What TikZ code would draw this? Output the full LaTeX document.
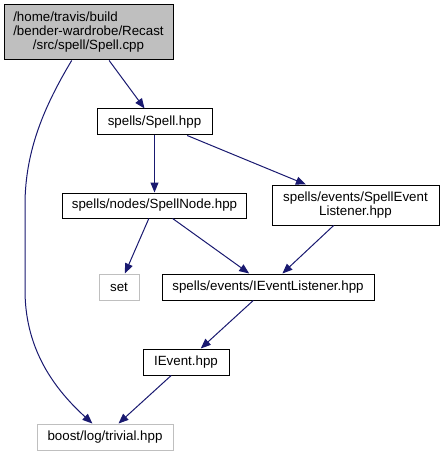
\documentclass[tikz,border=0pt]{standalone}
\usepackage{fontspec}
\setmainfont{Liberation Sans}
\usetikzlibrary{arrows.meta, positioning}
\definecolor{depblue}{RGB}{25,25,112}
\definecolor{extgray}{RGB}{191,191,191}
\def\px{0.75pt}  % one pixel of the graph

\tikzset{
  file/.style={draw=black, line width=\px, fill=white, inner sep=0pt, align=center,
    font=\fontsize{10}{10.5}\selectfont},
  extfile/.style={file, draw=extgray},
  dep/.style={draw=depblue, line width=\px, -{Triangle[length=7.5pt, width=6pt]}},
}

\begin{document}
\begin{tikzpicture}[x=\px, y=-\px]
    \useasboundingbox (0,0) rectangle (443,456);
    % Files
    \node[file, fill=extgray, minimum width=169*\px, minimum height=55*\px] (spellcpp) at (88.5,32.5)
      {\begin{tabular}{@{}l@{}}/home/travis/build\\/bender-wardrobe/Recast\\
       \multicolumn{1}{@{}c@{}}{/src/spell/Spell.cpp}\end{tabular}};
    \node[file, minimum width=115*\px, minimum height=26*\px] (spellhpp) at (154.5,122)
      {spells/Spell.hpp};
    \node[file, minimum width=184*\px, minimum height=25*\px] (spellnode) at (154.5,205.5)
      {spells/nodes/SpellNode.hpp};
    \node[file, minimum width=167*\px, minimum height=40*\px] (spellevl) at (355.5,205)
      {spells/events/SpellEvent\\Listener.hpp};
    \node[extfile, minimum width=40*\px, minimum height=26*\px] (setnode) at (119,287)
      {set};
    \node[file, minimum width=212*\px, minimum height=26*\px] (ieventl) at (268,287)
      {spells/events/IEventListener.hpp};
    \node[file, minimum width=86*\px, minimum height=26*\px] (ievent) at (186,362)
      {IEvent.hpp};
    \node[extfile, minimum width=136*\px, minimum height=26*\px] (trivial) at (105,437)
      {boost/log/trivial.hpp};
    % Includes
    \draw[dep] (spellcpp) -- (spellhpp);
    \draw[dep] (spellcpp.239) .. controls (45,105) and (25,150) .. (25,205)
      -- (25,290) .. controls (25,345) and (50,385) .. (trivial.133);
    \draw[dep] (spellhpp) -- (spellnode);
    \draw[dep] (spellhpp) -- (spellevl);
    \draw[dep] (spellnode) -- (setnode);
    \draw[dep] (spellnode) -- (ieventl);
    \draw[dep] (spellevl) -- (ieventl);
    \draw[dep] (ieventl) -- (ievent);
    \draw[dep] (ievent) -- (trivial.45);
\end{tikzpicture}
\end{document}
